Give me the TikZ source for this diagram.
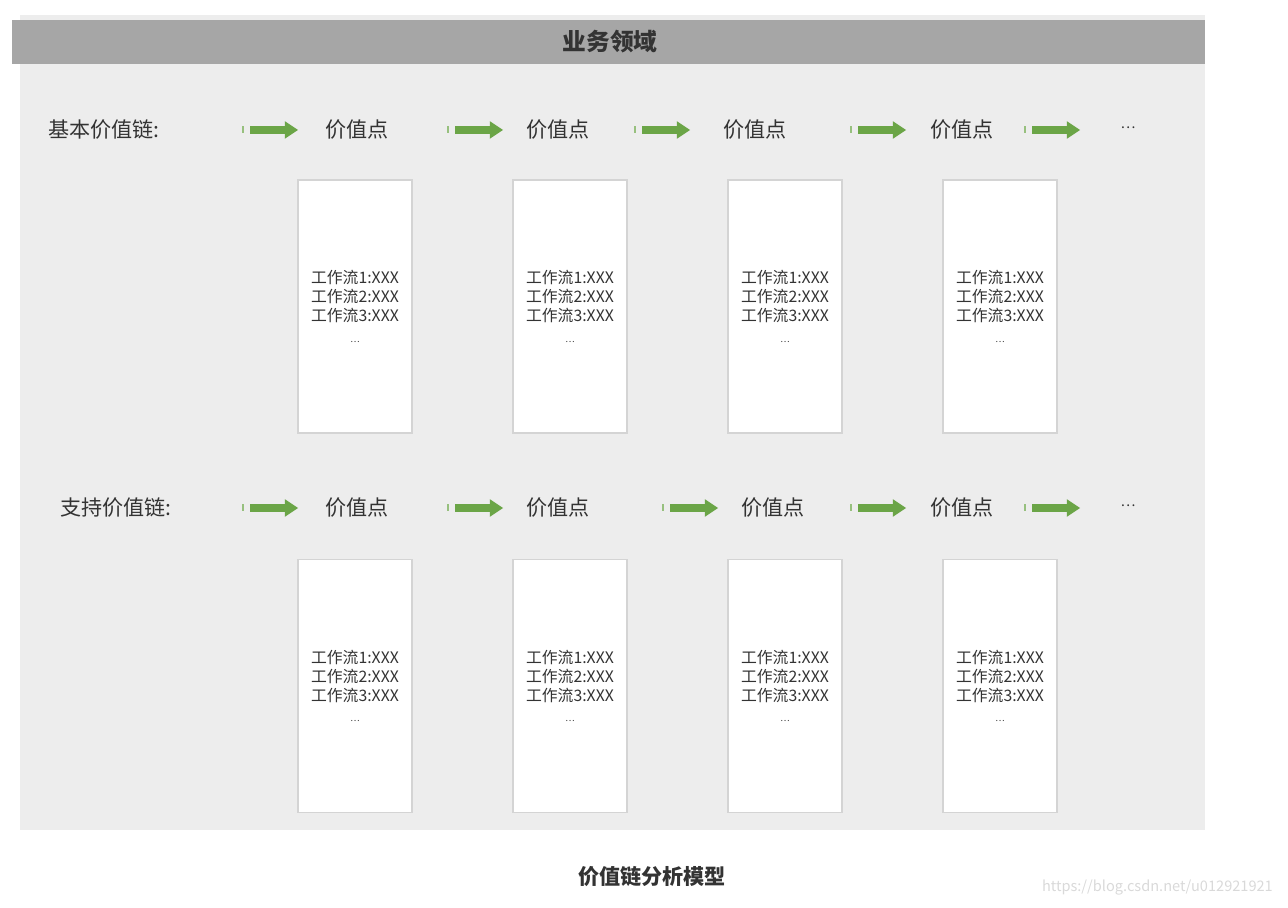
\documentclass[tikz,border=0pt]{standalone}
\usepackage{fontspec}
\setmainfont{Noto Sans CJK SC}
\usetikzlibrary{arrows.meta}
\definecolor{panelgray}{HTML}{EDEDED}
\definecolor{headgray}{HTML}{A6A6A6}
\definecolor{boxline}{HTML}{D4D4D4}
\definecolor{arrowgreen}{HTML}{6BA547}
\definecolor{textgray}{HTML}{333333}
\definecolor{markgray}{HTML}{D9D9D9}
\tikzset{
  pointlabel/.style={text=textgray, font=\fontsize{12}{14}\selectfont},
  flowbox/.style={draw=boxline, fill=white, line width=0.9pt, inner sep=0pt,
    minimum width=2.28cm, minimum height=5.06cm, align=center,
    text=textgray, font=\fontsize{9}{10.8}\selectfont},
  greenarrow/.style={draw=arrowgreen, line width=4pt,
    -{Triangle[length=7.5pt, width=10pt, line width=0pt]}},
  greentick/.style={draw=arrowgreen!70, line width=1.1pt}
}
\newcommand{\flowtext}{工作流1:XXX\\工作流2:XXX\\工作流3:XXX\\[0.8pt]{\tiny …}}
\begin{document}
\begin{tikzpicture}[x=0.02cm, y=-0.02cm]
    \useasboundingbox (0, 0) rectangle (1288, 908);
    % Background panel and header bar
    \fill[panelgray] (20, 15) rectangle (1205, 830);
    \fill[headgray] (12, 20) rectangle (1205, 64);
    \node[font=\fontsize{13.5}{16}\selectfont\bfseries, text=textgray] (hdr) at (610, 42) {业务领域};
    % Row labels
    \node[pointlabel] (lbl1) at (104, 130) {基本价值链:};
    \node[pointlabel] (lbl2) at (116, 508) {支持价值链:};
    % Arrows of both chains
    \foreach \r/\y/\xs in {1/130/{240,445,632,848,1022}, 2/508/{240,445,660,848,1022}}{
      \foreach \x [count=\i] in \xs{
        \coordinate (r\r a\i s) at (\x+10, \y);
        \coordinate (r\r a\i e) at (\x+58, \y);
        \draw[greentick] (\x+3, \y-3.5) -- (\x+3, \y+3.5);
        \draw[greenarrow] (r\r a\i s) -- (r\r a\i e);
      }
    }
    % Value points
    \foreach \r/\y/\xs in {1/130/{357,558,755,962}, 2/508/{357,558,773,962}}{
      \foreach \x [count=\i] in \xs{
        \node[pointlabel] (vp\r\i) at (\x, \y) {价值点};
      }
    }
    \node[text=textgray, font=\footnotesize] (more1) at (1128, 128) {…};
    \node[text=textgray, font=\footnotesize] (more2) at (1128, 506) {…};
    % Work flow boxes
    \foreach \r/\y in {1/306.5, 2/686}{
      \foreach \x [count=\i] in {355, 570, 785, 1000}{
        \node[flowbox] (wf\r\i) at (\x, \y) {\flowtext};
      }
    }
    % Caption and watermark
    \node[font=\fontsize{12}{14}\selectfont\bfseries, text=textgray] (title) at (652, 877) {价值链分析模型};
    \node[anchor=east, text=markgray, font=\fontsize{8.3}{10}\selectfont] (wmark) at (1279, 888) {https://blog.csdn.net/u012921921};
\end{tikzpicture}
\end{document}
